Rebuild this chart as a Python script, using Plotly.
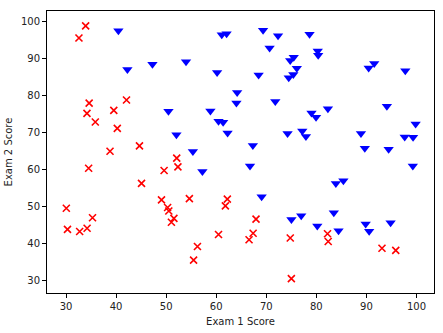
import plotly.graph_objects as go

exam1 = [34.62,30.29,35.85,60.18,79.03,45.08,61.11,75.02,76.10,84.43,95.86,75.01,82.31,69.36,39.54,53.97,69.07,67.95,70.66,76.98,
         67.37,89.68,50.53,34.21,77.92,62.27,80.19,93.11,61.83,38.79,61.38,85.40,52.11,52.05,40.24,54.64,33.92,64.18,74.79,34.18,
         83.90,51.55,94.44,82.37,51.05,62.22,77.19,97.77,62.07,91.56,79.94,99.27,90.55,34.52,50.29,49.59,97.65,32.58,74.25,71.80,
         75.40,35.29,56.25,30.06,44.67,66.56,40.46,49.07,80.28,66.75,32.72,64.04,72.35,60.46,58.84,99.83,47.26,50.46,60.46,82.23,
         88.91,94.83,67.32,57.24,80.37,68.47,42.08,75.48,78.64,52.35,94.09,90.45,55.48,74.49,89.85,83.49,42.26,99.32,55.34,74.78]
exam2 = [78.02,43.89,72.90,86.31,75.34,56.32,96.51,46.55,87.42,43.53,38.23,30.60,76.48,97.72,76.04,89.21,52.74,46.68,92.93,47.58,
         42.84,65.80,48.86,44.21,68.97,69.95,44.82,38.80,50.26,65.00,72.81,57.05,63.13,69.43,71.17,52.21,98.87,80.91,41.57,75.24,
         56.31,46.86,65.57,40.62,45.82,52.06,70.46,86.73,96.77,88.70,74.16,61.00,43.39,60.40,49.80,59.81,68.86,95.60,69.82,78.45,
         85.76,47.02,39.26,49.59,66.45,41.09,97.54,51.88,92.12,60.99,43.31,78.03,96.23,73.09,75.86,72.37,88.48,75.81,42.51,42.72,
         69.80,45.69,66.59,59.51,90.96,85.59,78.84,90.42,96.65,60.77,77.16,87.51,35.57,84.85,45.36,48.38,87.10,68.78,64.93,89.53]
admitted = [0,0,0,1,1,0,1,1,1,1,0,0,1,1,0,1,1,0,1,1,
            0,1,0,0,1,1,1,0,0,0,1,1,0,1,0,0,0,1,0,0,
            1,0,1,0,0,0,1,1,1,1,1,1,1,0,0,0,1,0,1,1,
            1,0,0,0,0,0,1,0,1,1,0,1,1,1,1,1,1,1,0,0,
            1,1,1,1,1,1,0,1,1,0,1,1,0,1,1,1,1,1,1,1]

x1 = [a for a, y in zip(exam1, admitted) if y == 1]
y1 = [b for b, y in zip(exam2, admitted) if y == 1]
x0 = [a for a, y in zip(exam1, admitted) if y == 0]
y0 = [b for b, y in zip(exam2, admitted) if y == 0]

fig = go.Figure()
fig.add_trace(go.Scatter(x=x1, y=y1, mode="markers", name="Admitted",
                         marker=dict(symbol="triangle-down", color="#0000ff", size=9, line=dict(width=0))))
fig.add_trace(go.Scatter(x=x0, y=y0, mode="markers", name="Not admitted",
                         marker=dict(symbol="x-thin", color="#ff0000", size=7, line=dict(width=1.6, color="#ff0000"))))

font = dict(family="DejaVu Sans", size=10, color="#222")
axis_common = dict(showgrid=False, zeroline=False, showline=True, linecolor="black", linewidth=1,
                   mirror=True, ticks="outside", ticklen=4, tickwidth=1, tickcolor="black",
                   tickfont=font, dtick=10)
fig.update_layout(
    width=443, height=333, margin=dict(l=46, r=8, t=11, b=37),
    paper_bgcolor="white", plot_bgcolor="white", showlegend=False,
    xaxis=dict(range=[26.2, 103.5], tick0=30,
               title=dict(text="Exam 1 Score", font=font, standoff=6),
               **axis_common),
    yaxis=dict(range=[26.7, 102.9], tick0=30,
               title=dict(text="Exam 2 Score", font=font, standoff=6),
               **axis_common),
)
fig.write_html("out.html")
